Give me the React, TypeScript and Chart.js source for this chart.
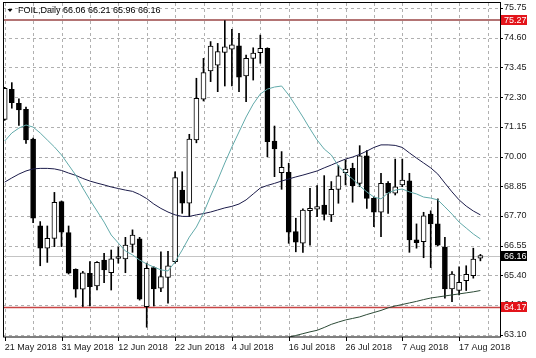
import React, { useEffect, useRef } from 'react';
import { Chart, registerables } from 'chart.js';

Chart.register(...registerables);

const dates = [
  '21 May 2018', '22 May 2018', '23 May 2018', '24 May 2018', '25 May 2018', '28 May 2018', '29 May 2018', '30 May 2018', '31 May 2018',
  '1 Jun 2018', '4 Jun 2018', '5 Jun 2018', '6 Jun 2018', '7 Jun 2018', '8 Jun 2018', '11 Jun 2018', '12 Jun 2018', '13 Jun 2018',
  '14 Jun 2018', '15 Jun 2018', '18 Jun 2018', '19 Jun 2018', '20 Jun 2018', '21 Jun 2018', '22 Jun 2018', '25 Jun 2018', '26 Jun 2018',
  '27 Jun 2018', '28 Jun 2018', '29 Jun 2018', '2 Jul 2018', '3 Jul 2018', '4 Jul 2018', '5 Jul 2018', '6 Jul 2018', '9 Jul 2018',
  '10 Jul 2018', '11 Jul 2018', '12 Jul 2018', '13 Jul 2018', '16 Jul 2018', '17 Jul 2018', '18 Jul 2018', '19 Jul 2018', '20 Jul 2018',
  '23 Jul 2018', '24 Jul 2018', '25 Jul 2018', '26 Jul 2018', '27 Jul 2018', '30 Jul 2018', '31 Jul 2018', '1 Aug 2018', '2 Aug 2018',
  '3 Aug 2018', '6 Aug 2018', '7 Aug 2018', '8 Aug 2018', '9 Aug 2018', '10 Aug 2018', '13 Aug 2018', '14 Aug 2018', '15 Aug 2018',
  '16 Aug 2018', '17 Aug 2018', '20 Aug 2018', '21 Aug 2018', '22 Aug 2018',
];

const opens = [
  71.44, 72.60, 72.06, 71.83, 70.67, 67.32, 66.45, 66.83, 68.25, 67.05,
  65.63, 64.86, 65.48, 64.99, 65.99, 65.50, 66.05, 66.03, 66.60, 66.81,
  64.19, 65.70, 64.90, 65.32, 65.93, 68.70, 68.19, 70.64, 72.22, 73.31,
  73.54, 74.03, 74.16, 74.29, 73.12, 73.80, 74.02, 74.19, 70.60, 69.37,
  69.39, 67.09, 66.64, 67.90, 67.96, 68.12, 67.74, 68.73, 69.37, 69.54,
  68.96, 70.03, 68.38, 67.84, 68.96, 68.58, 68.90, 69.06, 66.77, 66.70,
  67.77, 67.39, 66.49, 64.87, 64.81, 65.19, 65.39, 66.06,
];
const highs = [
  72.68, 72.86, 72.23, 71.91, 70.71, 67.48, 67.31, 68.61, 68.28, 67.31,
  65.65, 65.55, 65.93, 65.93, 66.25, 66.38, 66.49, 66.87, 67.16, 66.87,
  65.87, 65.73, 66.31, 66.33, 69.41, 69.41, 70.86, 73.03, 73.80, 74.45,
  74.38, 75.26, 74.92, 74.77, 73.93, 74.21, 74.70, 74.21, 71.18, 70.19,
  69.74, 67.61, 67.97, 68.77, 68.87, 69.26, 69.03, 69.65, 69.87, 69.74,
  70.42, 70.23, 68.44, 69.35, 69.03, 69.90, 69.90, 69.35, 67.39, 67.84,
  67.90, 68.36, 66.87, 65.54, 65.73, 65.77, 66.45, 66.21,
];
const lows = [
  71.40, 71.87, 71.20, 70.51, 67.44, 65.77, 65.90, 66.51, 66.51, 65.45,
  64.55, 64.19, 64.21, 64.83, 65.11, 64.83, 65.87, 65.50, 66.29, 64.44,
  63.39, 64.21, 64.77, 64.32, 65.87, 67.80, 67.67, 70.53, 72.15, 72.90,
  72.51, 72.73, 72.73, 72.51, 72.12, 72.96, 73.61, 69.99, 69.22, 68.73,
  66.64, 66.31, 66.29, 66.57, 67.67, 67.54, 67.48, 68.19, 68.90, 68.23,
  68.83, 67.99, 67.28, 66.90, 67.80, 68.51, 68.83, 66.29, 66.45, 66.08,
  65.70, 66.54, 64.51, 64.38, 64.64, 64.81, 65.29, 65.96,
];
const closes = [
  72.64, 72.08, 71.80, 70.64, 67.61, 66.45, 66.83, 68.23, 67.07, 65.48,
  64.86, 65.50, 64.96, 65.90, 65.61, 66.04, 66.10, 66.57, 66.96, 64.48,
  65.67, 64.87, 65.35, 65.77, 69.18, 68.19, 70.67, 72.25, 73.25, 74.28,
  74.06, 74.25, 74.32, 73.07, 73.80, 74.00, 74.19, 70.57, 70.29, 69.58,
  67.07, 66.68, 67.93, 67.99, 68.06, 67.76, 68.73, 69.25, 69.51, 68.87,
  70.03, 68.38, 67.84, 68.96, 68.58, 68.83, 69.09, 66.77, 66.66, 67.70,
  67.39, 66.57, 64.87, 65.45, 65.13, 65.44, 66.03, 66.16,
];

const maFast = [
  70.60, 70.91, 71.10, 71.22, 71.14, 70.91, 70.64, 70.37, 70.06, 69.67,
  69.28, 68.78, 68.32, 67.89, 67.46, 66.96, 66.65, 66.34, 66.19, 65.99,
  65.84, 65.72, 65.61, 65.57, 65.92, 66.38, 66.88, 67.27, 67.81, 68.47,
  69.09, 69.75, 70.37, 70.95, 71.53, 72.03, 72.42, 72.61, 72.69, 72.73,
  72.38, 71.96, 71.53, 71.07, 70.64, 70.29, 70.06, 69.63, 69.36, 69.13,
  68.86, 68.63, 68.43, 68.36, 68.59, 68.70, 68.74, 68.63, 68.55, 68.43,
  68.39, 68.32, 68.05, 67.77, 67.46, 67.23, 67.00, 66.81,
];
const maSlow = [
  69.01, 69.17, 69.32, 69.44, 69.52, 69.54, 69.54, 69.52, 69.46, 69.36,
  69.27, 69.15, 69.05, 68.97, 68.90, 68.82, 68.76, 68.70, 68.65, 68.53,
  68.37, 68.16, 67.99, 67.85, 67.74, 67.68, 67.68, 67.74, 67.79, 67.85,
  67.93, 68.01, 68.07, 68.16, 68.32, 68.55, 68.78, 68.88, 68.96, 69.05,
  69.13, 69.21, 69.28, 69.36, 69.44, 69.56, 69.67, 69.79, 69.90, 69.98,
  70.08, 70.21, 70.35, 70.45, 70.45, 70.43, 70.35, 70.14, 69.94, 69.75,
  69.56, 69.32, 68.97, 68.63, 68.32, 68.08, 67.89, 67.74,
];
const maLong: (number | null)[] = [
  null, null, null, null, null, null, null, null, null, null,
  null, null, null, null, null, null, null, null, null, null,
  null, null, null, null, null, null, null, null, null, null,
  null, null, null, null, null, null, null, null, null, 62.94,
  63.00, 63.07, 63.14, 63.21, 63.27, 63.38, 63.50, 63.59, 63.67, 63.73,
  63.79, 63.88, 63.96, 64.04, 64.14, 64.21, 64.27, 64.33, 64.39, 64.46,
  64.52, 64.56, 64.60, 64.64, 64.68, 64.72, 64.76, 64.81,
];

const priceTicks = [63.10, 64.25, 65.40, 66.55, 67.70, 68.85, 70.00, 71.15, 72.30, 73.45, 74.60, 75.75];
const resistanceLevel = 75.27;
const supportLevel = 64.17;
const symbolTitle = 'FOIL,Daily';

const FONT = "'Liberation Sans', Arial, sans-serif";
const GRID = '#b0b0b0';

export default function App() {
  const ref = useRef<HTMLCanvasElement | null>(null);

  useEffect(() => {
    const canvas = ref.current;
    if (!canvas) return;
    const n = dates.length;
    const last = n - 1;
    const lastPrice = closes[last];

    const wickData = dates.map((_, i) => ({ x: i, y: [lows[i], highs[i]] }));
    const bodyData = dates.map((_, i) => ({ x: i, y: [Math.min(opens[i], closes[i]), Math.max(opens[i], closes[i])] }));
    const bodyColors = dates.map((_, i) => (closes[i] >= opens[i] ? '#ffffff' : '#000000'));
    const toLine = (arr: (number | null)[]) =>
      arr.map((v, i) => (v == null ? null : { x: i, y: v })).filter((p) => p !== null);

    const gridIdx: number[] = [];
    for (let i = 0; i <= n; i += 4) gridIdx.push(i);

    const overlay = {
      id: 'overlay',
      beforeDatasetsDraw(chart: any) {
        const { ctx, chartArea: a, scales } = chart;
        const ys = scales.y;
        const xs = scales.x;
        ctx.save();
        ctx.beginPath();
        ctx.rect(a.left, a.top, a.right - a.left, a.bottom - a.top);
        ctx.clip();
        // dashed grid from the scales' ticks
        ctx.strokeStyle = GRID;
        ctx.lineWidth = 1;
        ctx.setLineDash([3, 3]);
        ctx.beginPath();
        xs.ticks.forEach((t: any) => {
          const px = Math.round(xs.getPixelForValue(t.value)) + 0.5;
          ctx.moveTo(px, a.top);
          ctx.lineTo(px, a.bottom);
        });
        ys.ticks.forEach((t: any) => {
          const py = Math.round(ys.getPixelForValue(t.value)) + 0.5;
          ctx.moveTo(a.left, py);
          ctx.lineTo(a.right, py);
        });
        ctx.stroke();
        ctx.setLineDash([]);
        const yb = Math.round(ys.getPixelForValue(lastPrice)) + 0.5;
        ctx.strokeStyle = '#c4c4c4';
        ctx.lineWidth = 1;
        ctx.beginPath();
        ctx.moveTo(a.left, yb);
        ctx.lineTo(a.right, yb);
        ctx.stroke();
        const yr = Math.round(ys.getPixelForValue(resistanceLevel));
        ctx.strokeStyle = '#b37474';
        ctx.lineWidth = 2;
        ctx.beginPath();
        ctx.moveTo(a.left, yr);
        ctx.lineTo(a.right, yr);
        ctx.stroke();
        const ysu = Math.round(ys.getPixelForValue(supportLevel)) + 0.5;
        ctx.strokeStyle = '#c84444';
        ctx.lineWidth = 1.5;
        ctx.beginPath();
        ctx.moveTo(a.left, ysu);
        ctx.lineTo(a.right, ysu);
        ctx.stroke();
        ctx.restore();
      },
      afterDraw(chart: any) {
        const { ctx, chartArea: a, scales } = chart;
        const ys = scales.y;
        const xs = scales.x;
        ctx.save();
        ctx.strokeStyle = '#000';
        ctx.lineWidth = 1;
        ctx.strokeRect(Math.round(a.left) + 0.5, Math.round(a.top) - 0.5, Math.round(a.right - a.left), Math.round(a.bottom - a.top) + 0.5);
        // axis tick marks
        ctx.beginPath();
        ys.ticks.forEach((t: any) => {
          const py = Math.round(ys.getPixelForValue(t.value)) + 0.5;
          ctx.moveTo(a.right, py);
          ctx.lineTo(a.right + 3, py);
        });
        xs.ticks.forEach((t: any) => {
          if (t.value % 8 !== 0) return;
          const px = Math.round(xs.getPixelForValue(t.value)) + 0.5;
          ctx.moveTo(px, a.bottom);
          ctx.lineTo(px, a.bottom + 4);
        });
        ctx.stroke();
        ctx.fillStyle = '#000';
        ctx.beginPath();
        ctx.moveTo(7.5, 9);
        ctx.lineTo(12.5, 9);
        ctx.lineTo(10, 12);
        ctx.closePath();
        ctx.fill();
        ctx.font = `9px ${FONT}`;
        ctx.textBaseline = 'middle';
        ctx.textAlign = 'left';
        const t = `${symbolTitle} ${opens[last].toFixed(2)} ${highs[last].toFixed(2)} ${lows[last].toFixed(2)} ${closes[last].toFixed(2)}`;
        ctx.fillText(t, 18, 10.5);
        const box = (v: number, bg: string) => {
          const y = Math.round(ys.getPixelForValue(v));
          ctx.fillStyle = bg;
          ctx.fillRect(501, y - 5, 26, 10);
          ctx.fillStyle = '#fff';
          ctx.font = `9px ${FONT}`;
          ctx.textBaseline = 'middle';
          ctx.textAlign = 'left';
          ctx.fillText(v.toFixed(2), 504, y + 0.5);
        };
        box(resistanceLevel, '#e3141b');
        box(supportLevel, '#e3141b');
        box(lastPrice, '#000000');
        ctx.restore();
      },
    };

    const chart = new Chart(canvas, {
      type: 'bar',
      data: {
        datasets: [
          { type: 'line', data: toLine(maFast) as any, borderColor: '#62aaaa', borderWidth: 1, pointRadius: 0, tension: 0, order: 0 },
          { type: 'line', data: toLine(maSlow) as any, borderColor: '#1c1c4a', borderWidth: 1, pointRadius: 0, tension: 0, order: 0 },
          { type: 'line', data: toLine(maLong) as any, borderColor: '#2c4a36', borderWidth: 1, pointRadius: 0, tension: 0, order: 0 },
          {
            type: 'bar',
            data: bodyData as any,
            backgroundColor: bodyColors,
            borderColor: '#000',
            borderWidth: 1,
            borderSkipped: false,
            barThickness: 5,
            minBarLength: 2,
            grouped: false,
            order: 1,
          },
          {
            type: 'bar',
            data: wickData as any,
            backgroundColor: '#000',
            borderWidth: 0,
            barThickness: 1,
            grouped: false,
            order: 2,
          },
        ],
      },
      options: {
        responsive: false,
        animation: false,
        devicePixelRatio: 1,
        events: [],
        layout: { padding: { left: 3, top: 3, right: 0, bottom: 0 } },
        plugins: { legend: { display: false }, tooltip: { enabled: false }, title: { display: false } },
        scales: {
          x: {
            type: 'linear',
            min: -0.24,
            max: 69.76,
            offset: false,
            afterBuildTicks: (s: any) => {
              s.ticks = gridIdx.map((v) => ({ value: v }));
            },
            afterFit: (s: any) => {
              s.height = 21;
              s.paddingLeft = 0;
              s.paddingRight = 0;
            },
            grid: { display: false, drawTicks: false, offset: false },
            border: { display: false },
            ticks: {
              autoSkip: false,
              maxRotation: 0,
              minRotation: 0,
              align: 'start',
              padding: 5,
              color: '#1a1a1a',
              font: { family: FONT, size: 9 },
              callback: (v: any) => (Number(v) % 8 === 0 && dates[Number(v)] ? dates[Number(v)] : ''),
            },
          },
          y: {
            type: 'linear',
            position: 'right',
            min: 63.011,
            max: 75.944,
            afterBuildTicks: (s: any) => {
              s.ticks = priceTicks.map((v) => ({ value: v }));
            },
            afterFit: (s: any) => {
              s.width = 36;
              s.paddingTop = 0;
              s.paddingBottom = 0;
            },
            grid: { display: false, drawTicks: false },
            border: { display: false },
            ticks: {
              padding: 4,
              color: '#1a1a1a',
              font: { family: FONT, size: 9 },
              callback: (v: any) => Number(v).toFixed(2),
            },
          },
        },
      } as any,
      plugins: [overlay],
    });

    return () => chart.destroy();
  }, []);

  return (
    <div style={{ position: 'absolute', left: 0, top: 0, width: 536, height: 358, background: '#fff' }}>
      <canvas ref={ref} width={536} height={358} style={{ display: 'block' }} />
    </div>
  );
}
